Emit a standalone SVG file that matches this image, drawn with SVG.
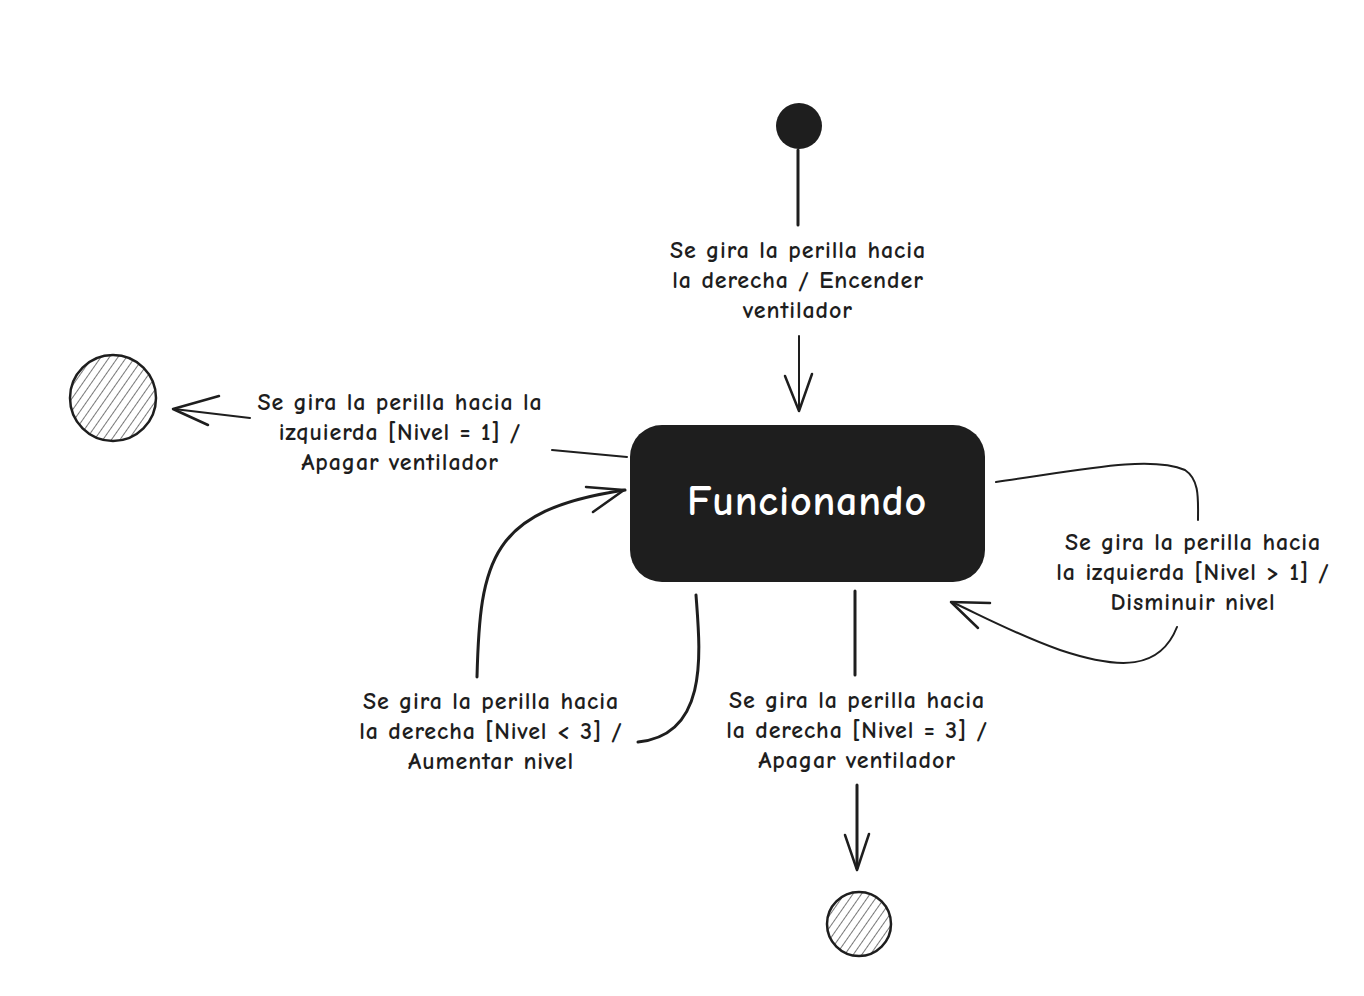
<svg xmlns="http://www.w3.org/2000/svg" width="1364" height="996" viewBox="0 0 1364 996">
<style>
.lbl{font-family:"Comic Neue","Noto Sans","Liberation Sans",sans-serif;font-size:24px;font-weight:bold;letter-spacing:0.9px;fill:#1e1e1e;text-anchor:middle}
.edge{fill:none;stroke:#1e1e1e;stroke-width:3;stroke-linecap:round}
.edge2{fill:none;stroke:#1e1e1e;stroke-width:2;stroke-linecap:round}
.head{fill:none;stroke:#1e1e1e;stroke-width:2.5;stroke-linecap:round;stroke-linejoin:round}
.final{fill:url(#hatch);stroke:#1e1e1e;stroke-width:2.5}
</style>
<defs>
<pattern id="hatch" patternUnits="userSpaceOnUse" width="7" height="7" patternTransform="rotate(35)">
<rect width="7" height="7" fill="#fff"/>
<line x1="0" y1="0" x2="0" y2="7" stroke="#1e1e1e" stroke-width="1.2"/>
</pattern>
</defs>
<rect width="1364" height="996" fill="#fff"/>

<g id="initial">
<circle cx="799" cy="126" r="23" fill="#1e1e1e"/>
</g>

<g id="funcionando">
<rect x="630" y="425" width="355" height="157" rx="32" fill="#1e1e1e"/>
<text x="807" y="515" font-family="Comic Neue,Noto Sans,Liberation Sans,sans-serif" font-size="42" font-weight="bold" letter-spacing="0.8" fill="#fff" text-anchor="middle">Funcionando</text>
</g>

<g id="final-left">
<circle cx="113" cy="398" r="43" class="final"/>
</g>

<g id="final-bottom">
<circle cx="859" cy="924" r="32" class="final"/>
</g>

<g id="connectors">
<!-- initial -> Funcionando -->
<line x1="798" y1="150" x2="798" y2="225" class="edge"/>
<line x1="799" y1="336" x2="799" y2="410" class="edge2"/>
<path d="M785 376 L799 411 L812 374" class="head"/>

<!-- Funcionando -> left final -->
<line x1="627" y1="457" x2="552" y2="450" class="edge2"/>
<line x1="250" y1="418" x2="174" y2="409" class="edge2"/>
<path d="M219 396 L173 409 L208 425" class="head"/>

<!-- Aumentar nivel loop -->
<path d="M696 595 C700 650 710 735 638 742" class="edge"/>
<path d="M477 677 C480 560 490 510 625 490" class="edge"/>
<path d="M586 487 L624 490 L593 512" class="head"/>

<!-- Funcionando -> bottom final -->
<line x1="855" y1="591" x2="855" y2="675" class="edge"/>
<line x1="857" y1="785" x2="857" y2="868" class="edge"/>
<path d="M845 835 L857 870 L869 834" class="head"/>

<!-- Disminuir nivel self-loop -->
<path d="M996 482 C1080 470 1150 455 1185 470 C1200 480 1198 500 1198 520" class="edge2"/>
<path d="M1177 627 C1160 670 1120 670 1060 650 C1020 636 990 620 952 602" class="edge2"/>
<path d="M990 603 L951 602 L978 628" class="head"/>
</g>

<g id="labels">
<text class="lbl" x="798" y="258">Se gira la perilla hacia</text>
<text class="lbl" x="798" y="288">la derecha / Encender</text>
<text class="lbl" x="798" y="318">ventilador</text>

<text class="lbl" x="400" y="410">Se gira la perilla hacia la</text>
<text class="lbl" x="400" y="440">izquierda [Nivel = 1] /</text>
<text class="lbl" x="400" y="470">Apagar ventilador</text>

<text class="lbl" x="491" y="709">Se gira la perilla hacia</text>
<text class="lbl" x="491" y="739">la derecha [Nivel &lt; 3] /</text>
<text class="lbl" x="491" y="769">Aumentar nivel</text>

<text class="lbl" x="857" y="708">Se gira la perilla hacia</text>
<text class="lbl" x="857" y="738">la derecha [Nivel = 3] /</text>
<text class="lbl" x="857" y="768">Apagar ventilador</text>

<text class="lbl" x="1193" y="550">Se gira la perilla hacia</text>
<text class="lbl" x="1193" y="580">la izquierda [Nivel &gt; 1] /</text>
<text class="lbl" x="1193" y="610">Disminuir nivel</text>
</g>
</svg>
